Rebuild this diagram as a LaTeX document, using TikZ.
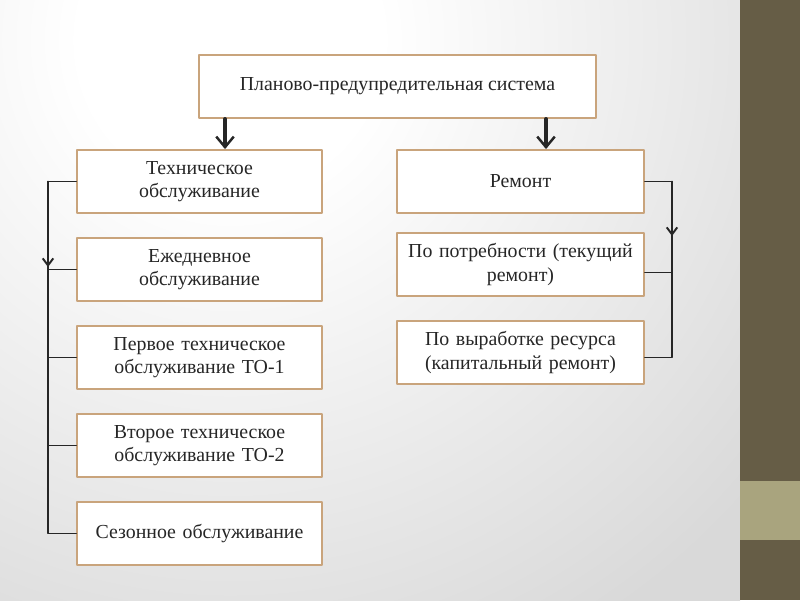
\documentclass[tikz,border=0pt]{standalone}
\usepackage{fontspec}
\setmainfont{Liberation Serif}
\usetikzlibrary{arrows.meta}
\definecolor{boxedge}{HTML}{C9A47C}
\definecolor{ink}{HTML}{262626}
\definecolor{bggray}{HTML}{D9D9D9}
\definecolor{bardark}{HTML}{665D46}
\definecolor{barlight}{HTML}{A9A47E}
\pgfdeclareradialshading{bgshade}{\pgfpoint{0bp}{0bp}}{color(0bp)=(white); color(5bp)=(white); color(23bp)=(bggray); color(50bp)=(bggray)}
\begin{document}
\begin{tikzpicture}[x=0.02cm,y=-0.02cm,line join=round,line cap=round,>={Straight Barb[length=4pt,width=6pt]}]
					\tikzset{every node/.style={font=\fontsize{11.3}{13.4}\selectfont,text=ink,align=center}}
					\tikzset{blok/.style={draw=boxedge,line width=1.1pt,fill=white,minimum height=63*0.02cm,inner sep=2pt}}
					\tikzset{uzkij/.style={blok,minimum width=245*0.02cm,text width=230*0.02cm}}
					\tikzset{svyaz/.style={draw=ink,line width=1.1pt}}
					\tikzset{strelka/.style={draw=ink,line width=2.2pt,-{Straight Barb[length=6pt,width=10pt,line width=1.4pt]}}}
					\useasboundingbox (0,0) rectangle (800,600);
					% background
					\begin{scope}
						\clip (0,0) rectangle (740,600);
						\shade[shading=bgshade] (-520,-710) rectangle (980,790);
					\end{scope}
					\fill[bardark] (740,0) rectangle (800,600);
					\fill[barlight] (740,481) rectangle (800,540);
					% boxes
					\node[blok,minimum width=397*0.02cm] (sys) at (397.5,86.5) {Планово-предупредительная система};
					\node[uzkij] (to) at (199.5,181.5) {Техническое\\обслуживание};
					\node[uzkij] (eo) at (199.5,269.5) {Ежедневное\\обслуживание};
					\node[uzkij] (to1) at (199.5,357.5) {Первое техническое\\обслуживание ТО-1};
					\node[uzkij] (to2) at (199.5,445.5) {Второе техническое\\обслуживание ТО-2};
					\node[uzkij] (so) at (199.5,533.5) {Сезонное обслуживание};
					\node[uzkij,minimum width=247*0.02cm] (rem) at (520.5,181.5) {Ремонт};
					\node[uzkij,minimum width=247*0.02cm] (tek) at (520.5,264.5) {По потребности (текущий\\ремонт)};
					\node[uzkij,minimum width=247*0.02cm] (kap) at (520.5,352.5) {По выработке ресурса\\(капитальный ремонт)};
					% arrows from the top
					\draw[strelka] (sys.south -| 225,0) -- (to.north -| 225,0);
					\draw[strelka] (sys.south -| 546,0) -- (rem.north -| 546,0);
					% left bracket
					\coordinate (lt) at (48,181.5);
					\coordinate (la) at (48,267);
					\coordinate (lb) at (48,533.5);
					\draw[svyaz] (to.west) -- (lt) -- (lb) -- (so.west);
					\draw[svyaz,->] (lt) -- (la);
					\foreach \n in {eo,to1,to2}
						\draw[svyaz] (\n.west) -- (\n.west -| lt);
					% right bracket
					\coordinate (rt) at (672,181.5);
					\coordinate (ra) at (672,236);
					\coordinate (rm) at (672,272.5);
					\coordinate (rb) at (672,357.5);
					\draw[svyaz] (rem.east) -- (rt) -- (rb) -- (rb -| kap.east);
					\draw[svyaz,->] (rt) -- (ra);
					\draw[svyaz] (rm) -- (rm -| tek.east);
				\end{tikzpicture}
\end{document}
